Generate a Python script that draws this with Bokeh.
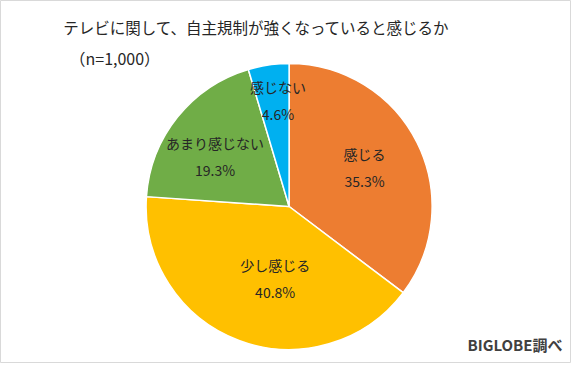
import math
from bokeh.plotting import figure
from bokeh.models import Range1d, ColumnDataSource
from bokeh.core.properties import value
from bokeh.embed import file_html
from bokeh.resources import INLINE

# ---- data ----
title = "テレビに関して、自主規制が強くなっていると感じるか"
subtitle = "（n=1,000）"
source_note = "BIGLOBE調べ"
categories = ["感じる", "少し感じる", "あまり感じない", "感じない"]
percents = [35.3, 40.8, 19.3, 4.6]
colors = ["#ED7D31", "#FFC000", "#70AD47", "#00B0F0"]

# ---- layout / style ----
W, H = 571, 363
FONT = "Noto Sans CJK JP"
TEXT_COLOR = "#262626"
cx, cy, R = 288.6, 157.0, 143.0
label_r = [0.595, 0.51, 0.625, 0.745]
label_nudge_deg = [1.0, 9.5, 4.6, -2.3]
line_gap = 13.5

total = sum(percents)
starts, ends, lx, ly1, ly2 = [], [], [], [], []
cum = 0.0
for i, v in enumerate(percents):
    a0 = math.pi / 2 - 2 * math.pi * (cum + v) / total
    a1 = math.pi / 2 - 2 * math.pi * cum / total
    starts.append(a0)
    ends.append(a1)
    mid = (a0 + a1) / 2 + math.radians(label_nudge_deg[i])
    x = cx + R * label_r[i] * math.cos(mid)
    y = cy + R * label_r[i] * math.sin(mid)
    lx.append(x)
    ly1.append(y + line_gap)
    ly2.append(y - line_gap)
    cum += v

src = ColumnDataSource(dict(
    start=starts, end=ends, color=colors, cat=categories,
    pct=[f"{v:.1f}%" for v in percents], lx=lx, ly1=ly1, ly2=ly2,
))

p = figure(width=W, height=H, output_backend="svg", toolbar_location=None,
           x_range=Range1d(0, W), y_range=Range1d(0, H), min_border=0)
p.axis.visible = False
p.grid.visible = False
p.outline_line_color = "#D9D9D9"
p.outline_line_width = 1
p.background_fill_color = "white"
p.border_fill_color = "white"

p.wedge(x=cx, y=cy, radius=R, start_angle="start", end_angle="end",
        direction="anticlock", fill_color="color", line_color="white",
        line_width=1.5, source=src)

p.text(x="lx", y="ly1", text="cat", source=src, text_align="center",
       text_baseline="middle", text_font=value(FONT), text_font_size="14px",
       text_color=TEXT_COLOR)
p.text(x="lx", y="ly2", text="pct", source=src, text_align="center",
       text_baseline="middle", text_font=value(FONT), text_font_size="14px",
       text_color=TEXT_COLOR)

p.text(x=[256], y=[337], text=[title], text_align="center",
       text_baseline="middle", text_font=value(FONT), text_font_size="15.5px",
       text_color=TEXT_COLOR)
p.text(x=[69], y=[305.5], text=[subtitle], text_align="left",
       text_baseline="middle", text_font=value(FONT), text_font_size="16px",
       text_color=TEXT_COLOR)
p.text(x=[562], y=[19], text=[source_note], text_align="right",
       text_baseline="middle", text_font=value(FONT), text_font_size="15px",
       text_font_style="bold", text_color="#404040")

open("out.html", "w").write(file_html(p, INLINE))
